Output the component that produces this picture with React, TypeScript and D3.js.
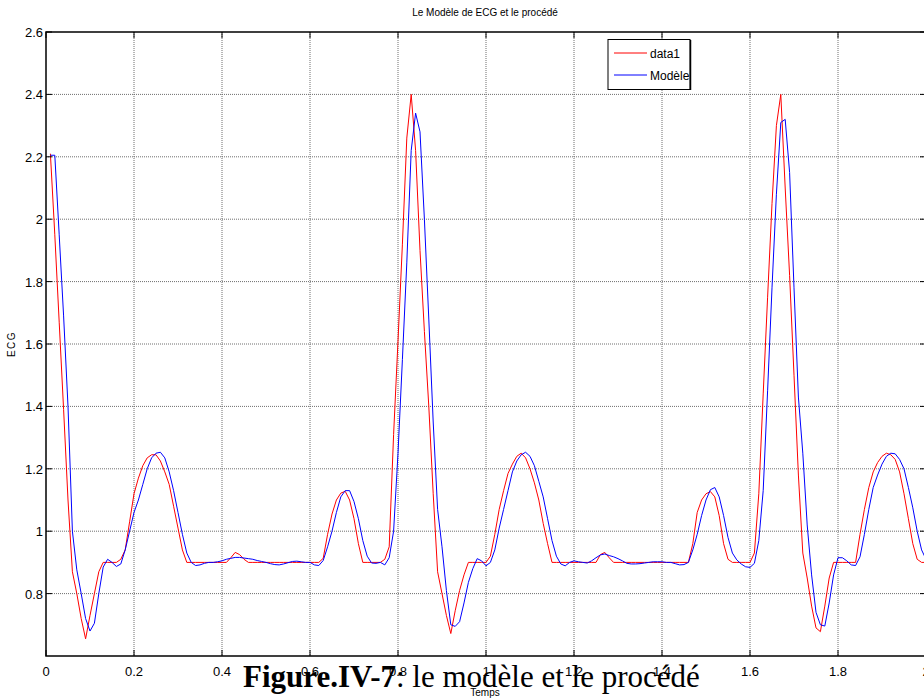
import React from "react";
import * as d3 from "d3";

// time axis: samples every 0.01 s starting at 0.01 s
const T0 = 0.01;
const DT = 0.01;

const data1: number[] = [
  2.21, 1.95, 1.67, 1.39, 1.10, 0.87, 0.80, 0.72, 0.655, 0.73,
  0.80, 0.87, 0.90, 0.90, 0.90, 0.90, 0.91, 0.94, 1.03, 1.12,
  1.17, 1.21, 1.235, 1.245, 1.245, 1.225, 1.19, 1.15, 1.08, 1.01,
  0.94, 0.90, 0.90, 0.90, 0.90, 0.90, 0.90, 0.90, 0.90, 0.90,
  0.90, 0.915, 0.932, 0.925, 0.91, 0.90, 0.90, 0.90, 0.90, 0.90,
  0.90, 0.90, 0.90, 0.90, 0.90, 0.90, 0.90, 0.90, 0.90, 0.90,
  0.90, 0.90, 0.913, 0.99, 1.055, 1.10, 1.122, 1.128, 1.10, 1.04,
  0.96, 0.90, 0.90, 0.90, 0.90, 0.90, 0.91, 0.95, 1.31, 1.61,
  1.92, 2.26, 2.40, 2.22, 1.90, 1.64, 1.40, 1.12, 0.87, 0.80,
  0.73, 0.672, 0.745, 0.81, 0.86, 0.90, 0.90, 0.90, 0.90, 0.90,
  0.92, 0.99, 1.07, 1.13, 1.185, 1.215, 1.24, 1.25, 1.235, 1.20,
  1.155, 1.10, 1.025, 0.96, 0.90, 0.90, 0.90, 0.90, 0.90, 0.90,
  0.90, 0.90, 0.90, 0.90, 0.90, 0.925, 0.932, 0.915, 0.90, 0.90,
  0.90, 0.90, 0.90, 0.90, 0.90, 0.90, 0.90, 0.90, 0.90, 0.90,
  0.90, 0.90, 0.90, 0.90, 0.90, 0.90, 0.96, 1.06, 1.10, 1.12,
  1.127, 1.11, 1.05, 0.96, 0.91, 0.90, 0.90, 0.90, 0.90, 0.90,
  0.93, 1.12, 1.44, 1.75, 2.05, 2.30, 2.40, 2.10, 1.82, 1.50,
  1.18, 0.93, 0.85, 0.76, 0.69, 0.678, 0.76, 0.85, 0.90, 0.90,
  0.90, 0.90, 0.90, 0.90, 0.99, 1.07, 1.14, 1.19, 1.22, 1.24,
  1.25, 1.245, 1.23, 1.19, 1.12, 1.04, 0.96, 0.91, 0.90, 0.90,
];

const modele: number[] = [
  2.205, 2.205, 1.95, 1.69, 1.40, 1.00, 0.876, 0.80, 0.72, 0.68,
  0.705, 0.80, 0.885, 0.91, 0.90, 0.887, 0.895, 0.94, 1.00, 1.06,
  1.10, 1.15, 1.20, 1.235, 1.25, 1.253, 1.235, 1.19, 1.13, 1.06,
  0.99, 0.93, 0.90, 0.89, 0.892, 0.897, 0.90, 0.90, 0.902, 0.905,
  0.91, 0.913, 0.916, 0.916, 0.914, 0.912, 0.91, 0.906, 0.903, 0.90,
  0.896, 0.893, 0.892, 0.895, 0.899, 0.903, 0.904, 0.902, 0.90, 0.90,
  0.892, 0.89, 0.906, 0.95, 1.00, 1.06, 1.11, 1.13, 1.13, 1.095,
  1.04, 0.97, 0.92, 0.898, 0.897, 0.90, 0.892, 0.915, 1.00, 1.25,
  1.55, 1.86, 2.22, 2.34, 2.28, 2.00, 1.68, 1.35, 1.07, 0.95,
  0.81, 0.70, 0.695, 0.71, 0.77, 0.836, 0.88, 0.912, 0.905, 0.889,
  0.90, 0.94, 1.01, 1.07, 1.13, 1.19, 1.225, 1.245, 1.253, 1.24,
  1.21, 1.16, 1.11, 1.04, 0.97, 0.92, 0.895, 0.889, 0.90, 0.905,
  0.902, 0.90, 0.898, 0.905, 0.915, 0.924, 0.927, 0.922, 0.918, 0.912,
  0.905, 0.897, 0.895, 0.895, 0.896, 0.898, 0.90, 0.902, 0.902, 0.902,
  0.90, 0.90, 0.896, 0.892, 0.893, 0.90, 0.94, 0.99, 1.05, 1.10,
  1.133, 1.14, 1.11, 1.05, 0.98, 0.93, 0.908, 0.895, 0.886, 0.884,
  0.897, 0.97, 1.13, 1.45, 1.78, 2.08, 2.31, 2.32, 2.15, 1.78,
  1.43, 1.25, 1.02, 0.86, 0.74, 0.70, 0.696, 0.77, 0.86, 0.915,
  0.915, 0.905, 0.892, 0.89, 0.918, 0.99, 1.07, 1.14, 1.18, 1.215,
  1.24, 1.25, 1.248, 1.23, 1.20, 1.14, 1.075, 1.00, 0.94, 0.91,
];

const xTicks: number[] = [0, 0.2, 0.4, 0.6, 0.8, 1, 1.2, 1.4, 1.6, 1.8, 2];
const xTickLabels: string[] = ["0", "0.2", "0.4", "0.6", "0.8", "1", "1.2", "1.4", "1.6", "1.8", "2"];
const yTicks: number[] = [0.8, 1, 1.2, 1.4, 1.6, 1.8, 2, 2.2, 2.4, 2.6];
const yTickLabels: string[] = ["0.8", "1", "1.2", "1.4", "1.6", "1.8", "2", "2.2", "2.4", "2.6"];
const seriesNames: string[] = ["data1", "Modèle"];
const seriesColors: string[] = ["#ff0000", "#0000ff"];

const W = 924;
const H = 698;
const L = 46, R = 926, TOP = 32, BOT = 656;

export default function App() {
  const x = d3.scaleLinear().domain([0, 2]).range([L, R]);
  const y = d3.scaleLinear().domain([0.6, 2.6]).range([BOT, TOP]);
  const line = d3
    .line<number>()
    .x((_, i) => x(T0 + i * DT))
    .y((v) => y(v));
  const series = [data1, modele];
  const tickFont = "'Liberation Sans Narrow', 'Arial Narrow', 'Liberation Sans', Arial, sans-serif";
  const sans = "'Liberation Sans', Arial, sans-serif";

  return (
    <svg
      width={W}
      height={H}
      style={{ position: "absolute", left: 0, top: 0, background: "#fff" }}
    >
      <rect x={0} y={0} width={W} height={H} fill="#fff" />
      {/* grid */}
      {xTicks.slice(1, -1).map((t) => (
        <line key={"gx" + t} x1={x(t)} x2={x(t)} y1={TOP} y2={BOT} stroke="#6e6e6e" strokeWidth={1} strokeDasharray="1 1" />
      ))}
      {yTicks.slice(0, -1).map((t) => (
        <line key={"gy" + t} x1={L} x2={R} y1={y(t)} y2={y(t)} stroke="#6e6e6e" strokeWidth={1} strokeDasharray="1 1" />
      ))}
      {/* data */}
      {series.map((s, k) => (
        <path key={k} d={line(s) || ""} fill="none" stroke={seriesColors[k]} strokeWidth={1} />
      ))}
      {/* box */}
      <rect x={L} y={TOP} width={R - L} height={BOT - TOP} fill="none" stroke="#000" strokeWidth={1.5} />
      {/* ticks */}
      {xTicks.map((t) => (
        <g key={"tx" + t}>
          <line x1={x(t)} x2={x(t)} y1={BOT} y2={BOT - 6} stroke="#000" strokeWidth={1} />
          <line x1={x(t)} x2={x(t)} y1={TOP} y2={TOP + 6} stroke="#000" strokeWidth={1} />
        </g>
      ))}
      {yTicks.map((t) => (
        <g key={"ty" + t}>
          <line x1={L} x2={L + 6} y1={y(t)} y2={y(t)} stroke="#000" strokeWidth={1} />
          <line x1={R} x2={R - 6} y1={y(t)} y2={y(t)} stroke="#000" strokeWidth={1} />
        </g>
      ))}
      {/* tick labels */}
      {xTicks.map((t, i) => (
        <text key={"lx" + t} x={x(t)} y={676} textAnchor="middle" fontSize={13} fontFamily={tickFont} fill="#000">
          {xTickLabels[i]}
        </text>
      ))}
      {yTicks.map((t, i) => (
        <text key={"ly" + t} x={43} y={y(t) + 5} textAnchor="end" fontSize={13} fontFamily={tickFont} fill="#000">
          {yTickLabels[i]}
        </text>
      ))}
      {/* title & labels */}
      <text x={485} y={16} textAnchor="middle" fontSize={10} fontFamily={sans} fill="#000">
        Le Modèle de ECG et le procédé
      </text>
      <text
        transform={`translate(15,${(TOP + BOT) / 2}) rotate(-90)`}
        textAnchor="middle"
        fontSize={10}
        letterSpacing={1.5}
        fontFamily={sans}
        fill="#000"
      >
        ECG
      </text>
      <text x={485} y={696} textAnchor="middle" fontSize={10} fontFamily={tickFont} fill="#000">
        Temps
      </text>
      {/* legend */}
      <rect x={608} y={39.5} width={82} height={50} fill="#fff" stroke="#000" strokeWidth={1} />
      <line x1={690.5} x2={690.5} y1={40} y2={90} stroke="#000" strokeWidth={1.5} />
      {seriesNames.map((n, i) => (
        <g key={n}>
          <line x1={614} x2={647} y1={53 + i * 22} y2={53 + i * 22} stroke={seriesColors[i]} strokeWidth={1} />
          <text x={650} y={57.5 + i * 22} fontSize={12} fontFamily={tickFont} fill="#000">
            {n}
          </text>
        </g>
      ))}
      {/* caption */}
      <text x={243} y={687} fontSize={31} fontFamily="'Liberation Serif', 'Times New Roman', serif" fill="#000">
        <tspan fontWeight="bold">Figure.IV-7</tspan>
        <tspan>: le modèle et le procédé</tspan>
      </text>
    </svg>
  );
}
